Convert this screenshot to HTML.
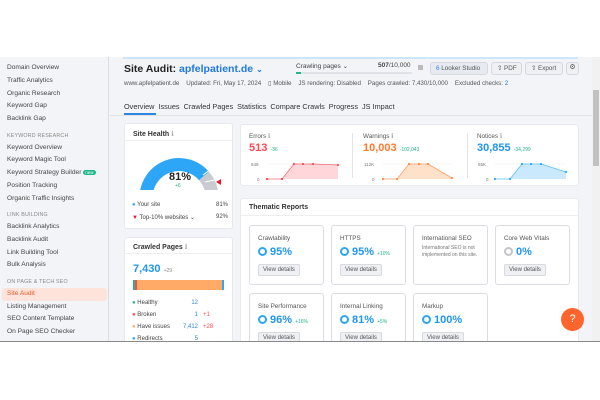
<!DOCTYPE html>
<html><head><meta charset="utf-8"><style>
*{margin:0;padding:0;box-sizing:border-box}
body{width:600px;height:400px;background:#fff;font-family:"Liberation Sans",sans-serif;position:relative;overflow:hidden;color:#333}
.a{position:absolute;white-space:nowrap}
#app{position:absolute;left:0;top:57px;width:600px;height:284px;background:#f3f4f8;overflow:hidden}
#side{position:absolute;left:0;top:0;width:109px;height:284px;background:#f3f4f8;border-right:1px solid #dcdde2}
.si{position:absolute;left:7px;font-size:6.6px;color:#444}
.sh{position:absolute;left:7px;font-size:5.3px;color:#888;letter-spacing:.2px}
.card{position:absolute;background:#fff;border-radius:3px;border:1px solid #e8e9ee}
.sub{position:absolute;background:#fff;border:1px solid #dcdde3;border-radius:3px}
.vd{position:absolute;left:8px;font-size:6px;color:#555;background:#eef0f3;border:1px solid #d8dade;border-radius:2px;padding:2px 4px}
.pc{position:absolute;left:8px;top:20px;font-size:11px;font-weight:bold;color:#2196f3}
.ring{display:inline-block;width:9px;height:9px;border:2px solid #2ea6f7;border-radius:50%;vertical-align:-1px;margin-right:3px}
.t{position:absolute;left:8px;top:9px;font-size:6.3px;color:#555}
</style></head><body>
<div id="app">
<div id="side">
<div class="si" style="top:7px">Domain Overview</div>
<div class="si" style="top:20px">Traffic Analytics</div>
<div class="si" style="top:33px">Organic Research</div>
<div class="si" style="top:45px">Keyword Gap</div>
<div class="si" style="top:58px">Backlink Gap</div>
<div class="sh" style="top:76px">KEYWORD RESEARCH</div>
<div class="si" style="top:87px">Keyword Overview</div>
<div class="si" style="top:99px">Keyword Magic Tool</div>
<div class="si" style="top:112px">Keyword Strategy Builder <span style="background:#1fb68a;color:#fff;font-size:4.5px;border-radius:3px;padding:0 2px">new</span></div>
<div class="si" style="top:125px">Position Tracking</div>
<div class="si" style="top:138px">Organic Traffic Insights</div>
<div class="sh" style="top:155px">LINK BUILDING</div>
<div class="si" style="top:166px">Backlink Analytics</div>
<div class="si" style="top:179px">Backlink Audit</div>
<div class="si" style="top:192px">Link Building Tool</div>
<div class="si" style="top:204px">Bulk Analysis</div>
<div class="sh" style="top:222px">ON PAGE &amp; TECH SEO</div>
<div style="position:absolute;left:2px;top:231px;width:105px;height:13px;background:#fde3da;border-radius:3px"></div>
<div class="si" style="top:233px;color:#f05a28">Site Audit</div>
<div class="si" style="top:246px">Listing Management</div>
<div class="si" style="top:258px">SEO Content Template</div>
<div class="si" style="top:271px">On Page SEO Checker</div>
</div>
<div class="a" style="left:123px;top:0;width:455px;height:2px;background:#cde6fb"></div>
<div class="a" style="left:124px;top:6px;font-size:10.5px;font-weight:bold;color:#222">Site Audit: <span style="color:#1f7ae0">apfelpatient.de</span> <span style="color:#1f7ae0;font-size:8px">⌄</span></div>
<div class="a" style="left:124px;top:23px;font-size:6.2px;color:#555">www.apfelpatient.de &nbsp;&nbsp; Updated: Fri, May 17, 2024 &nbsp;&nbsp; ▯ Mobile &nbsp;&nbsp; JS rendering: Disabled &nbsp;&nbsp; Pages crawled: 7,430/10,000 &nbsp;&nbsp; Excluded checks: <span style="color:#1f7ae0">2</span></div>
<div class="a" style="left:296px;top:5px;font-size:6.5px;color:#444">Crawling pages ⌄</div>
<div class="a" style="left:378px;top:5px;font-size:6.5px;color:#444"><b>507</b>/10,000</div>
<div class="a" style="left:296px;top:15px;width:116px;height:2px;background:#e0e2e7"><div style="width:5px;height:2px;background:#1fb68a"></div></div>
<div class="a" style="left:418px;top:8px;width:5px;height:5px;background:#bbb"></div>
<div class="a" style="left:430px;top:5px;width:58px;height:13px;background:#e7eaf1;border:1px solid #d5d8df;border-radius:3px;font-size:6.3px;color:#555;padding:2px 0 0 5px"><span style="color:#3b7fe8">6</span> Looker Studio</div>
<div class="a" style="left:491px;top:5px;width:31px;height:13px;background:#eef0f3;border:1px solid #d5d8df;border-radius:3px;font-size:6.3px;color:#555;padding:2px 0 0 5px">⇧ PDF</div>
<div class="a" style="left:525px;top:5px;width:38px;height:13px;background:#eef0f3;border:1px solid #d5d8df;border-radius:3px;font-size:6.3px;color:#555;padding:2px 0 0 5px">⇧ Export</div>
<div class="a" style="left:566px;top:5px;width:13px;height:13px;background:#eef0f3;border:1px solid #d5d8df;border-radius:3px;font-size:7px;color:#555;text-align:center">⚙</div>
<div class="a" style="left:124px;top:45px;font-size:7.3px;color:#333">Overview &nbsp;Issues &nbsp;Crawled Pages &nbsp;Statistics &nbsp;Compare Crawls &nbsp;Progress &nbsp;JS Impact</div>
<div class="a" style="left:124px;top:56px;width:32px;height:2px;background:#2e86de"></div>
<div class="a" style="left:110px;top:58px;width:482px;height:1px;background:#e1e2e7"></div>
<div class="a" style="left:592px;top:0;width:8px;height:284px;background:#f1f1f1"></div>
<div class="a" style="left:593px;top:33px;width:6px;height:76px;background:#c1c1c1"></div>

<!-- Site health -->
<div class="card" style="left:124px;top:66px;width:109px;height:106px">
<div class="a" style="left:8px;top:6px;font-size:7px;font-weight:bold;color:#333">Site Health <span style="color:#aaa;font-weight:normal">ℹ</span></div>
<div class="a" style="left:0;top:16px;width:107px;height:1px;background:#eee"></div>
<svg class="a" style="left:0;top:0" width="107" height="66">
<path d="M 21 74 A 33 33 0 0 1 79 52" fill="none" stroke="#2ea6f7" stroke-width="13"/>
<path d="M 79 52 A 33 33 0 0 1 87 74" fill="none" stroke="#c9cbd0" stroke-width="13"/>
<line x1="78" y1="51" x2="86" y2="45" stroke="#fff" stroke-width="1"/>
<line x1="80" y1="58" x2="94" y2="55" stroke="#fff" stroke-width="1"/>
<polygon points="91,58 96,55 96,61" fill="#e8192c"/>
</svg>
<div class="a" style="left:44px;top:47px;font-size:11px;font-weight:bold;color:#222">81%</div>
<div class="a" style="left:50px;top:59px;font-size:5px;color:#1fb68a">+6</div>
<div class="a" style="left:7px;top:78px;font-size:6px;color:#444"><span style="color:#2ea6f7">●</span> Your site</div>
<div class="a" style="left:91px;top:78px;font-size:6px;color:#444">81%</div>
<div class="a" style="left:7px;top:90px;font-size:6px;color:#444"><span style="color:#e8192c">▼</span> Top-10% websites ⌄</div>
<div class="a" style="left:91px;top:90px;font-size:6px;color:#444">92%</div>
</div>
<!-- crawled -->
<div class="card" style="left:124px;top:180px;width:109px;height:110px">
<div class="a" style="left:8px;top:5px;font-size:7px;font-weight:bold;color:#333">Crawled Pages <span style="color:#aaa;font-weight:normal">ℹ</span></div>
<div class="a" style="left:0;top:15px;width:107px;height:1px;background:#eee"></div>
<div class="a" style="left:8px;top:25px;font-size:11px;font-weight:bold;color:#2196f3">7,430 <span style="font-size:5px;color:#888;font-weight:normal">+29</span></div>
<div class="a" style="left:8px;top:42px;width:91px;height:10px;background:#ffaa66;border-radius:1px"><div style="position:absolute;left:0;width:2px;height:10px;background:#1fb68a"></div><div style="position:absolute;left:2px;width:2px;height:10px;background:#ff4953"></div><div style="position:absolute;right:0;width:2px;height:10px;background:#2ea6f7"></div></div>
<div class="a" style="left:7px;top:59px;font-size:6px;color:#444;line-height:12px"><span style="color:#1fb68a">●</span> Healthy<br><span style="color:#ff4953">●</span> Broken<br><span style="color:#ffaa66">●</span> Have issues<br><span style="color:#2ea6f7">●</span> Redirects</div>
<div class="a" style="left:58px;top:59px;font-size:6px;color:#2e86de;line-height:12px;text-align:right;width:15px">12<br>1<br>7,412<br>5</div>
<div class="a" style="left:78px;top:59px;font-size:6px;color:#ff4953;line-height:12px"><br>+1<br>+28</div>
</div>
<!-- errors -->
<div class="card" style="left:240px;top:67px;width:339px;height:62px">
<div class="a" style="left:111px;top:8px;width:1px;height:45px;background:#e3e4e8"></div>
<div class="a" style="left:226px;top:8px;width:1px;height:45px;background:#e3e4e8"></div>
<div class="a" style="left:8px;top:8px;font-size:6.3px;color:#555">Errors <span style="color:#aaa">ℹ</span></div>
<div class="a" style="left:8px;top:17px;font-size:11px;font-weight:bold;color:#ff4953">513 <span style="font-size:5px;color:#1fb68a;font-weight:normal">-36</span></div>
<div class="a" style="left:122px;top:8px;font-size:6.3px;color:#555">Warnings <span style="color:#aaa">ℹ</span></div>
<div class="a" style="left:122px;top:17px;font-size:11px;font-weight:bold;color:#ff7a2f">10,003 <span style="font-size:5px;color:#1fb68a;font-weight:normal">-102,043</span></div>
<div class="a" style="left:236px;top:8px;font-size:6.3px;color:#555">Notices <span style="color:#aaa">ℹ</span></div>
<div class="a" style="left:236px;top:17px;font-size:11px;font-weight:bold;color:#2196f3">30,855 <span style="font-size:5px;color:#1fb68a;font-weight:normal">-34,299</span></div>
<svg class="a" style="left:0;top:0" width="339" height="62" font-family="Liberation Sans" font-size="4.5" fill="#777">
<g transform="translate(-240,-124)">
<text x="250" y="165">549</text><text x="256" y="180">0</text>
<line x1="266" y1="163" x2="337" y2="163" stroke="#eee" stroke-width=".6"/>
<path d="M266 178 L281 178 L293 163 L302 163 L312 163 L337 164 L337 178 Z" fill="#ffd6d9"/>
<polyline points="266,178 281,178 293,163 302,163 312,163 337,164" fill="none" stroke="#ff6b75" stroke-width=".8"/>
<g fill="#ff4953"><circle cx="266" cy="178" r="1.1"/><circle cx="281" cy="178" r="1.1"/><circle cx="293" cy="163" r="1.1"/><circle cx="302" cy="163" r="1.1"/><circle cx="312" cy="163" r="1.1"/><circle cx="337" cy="164" r="1.1"/></g>
<text x="363" y="165">112K</text><text x="371" y="180">0</text>
<line x1="382" y1="163" x2="451" y2="163" stroke="#eee" stroke-width=".6"/>
<path d="M382 178 L396 178 L408 163 L418 163 L427 163 L451 177 L451 178 Z" fill="#ffe0c9"/>
<polyline points="382,178 396,178 408,163 418,163 427,163 451,177" fill="none" stroke="#ffa060" stroke-width=".8"/>
<g fill="#ff8a3d"><circle cx="382" cy="178" r="1.1"/><circle cx="396" cy="178" r="1.1"/><circle cx="408" cy="163" r="1.1"/><circle cx="418" cy="163" r="1.1"/><circle cx="427" cy="163" r="1.1"/><circle cx="451" cy="177" r="1.1"/></g>
<text x="477" y="165">65K</text><text x="485" y="180">0</text>
<line x1="494" y1="163" x2="565" y2="163" stroke="#eee" stroke-width=".6"/>
<path d="M494 178 L509 178 L521 163 L530 163 L540 163 L565 171 L565 178 Z" fill="#cbe9fc"/>
<polyline points="494,178 509,178 521,163 530,163 540,163 565,171" fill="none" stroke="#5cbcf8" stroke-width=".8"/>
<g fill="#2ea6f7"><circle cx="494" cy="178" r="1.1"/><circle cx="509" cy="178" r="1.1"/><circle cx="521" cy="163" r="1.1"/><circle cx="530" cy="163" r="1.1"/><circle cx="540" cy="163" r="1.1"/><circle cx="565" cy="171" r="1.1"/></g>
</g></svg>
</div>
<!-- thematic -->
<div class="card" style="left:240px;top:141px;width:339px;height:160px">
<div class="a" style="left:8px;top:5px;font-size:7px;font-weight:bold;color:#333">Thematic Reports</div>
<div class="a" style="left:0;top:16px;width:337px;height:1px;background:#eee"></div>
<div class="sub" style="left:8px;top:26px;width:75px;height:60px"><div class="t">Crawlability</div><div class="pc"><span class="ring"></span>95%</div><div class="vd" style="top:38px">View details</div></div>
<div class="sub" style="left:90px;top:26px;width:75px;height:60px"><div class="t">HTTPS</div><div class="pc"><span class="ring"></span>95% <span style="font-size:5px;color:#1fb68a;font-weight:normal">+10%</span></div><div class="vd" style="top:38px">View details</div></div>
<div class="sub" style="left:172px;top:26px;width:75px;height:60px"><div class="t">International SEO</div><div class="a" style="left:8px;top:19px;font-size:5px;color:#777;line-height:7px;white-space:normal;width:62px">International SEO is not implemented on this site.</div></div>
<div class="sub" style="left:254px;top:26px;width:75px;height:60px"><div class="t">Core Web Vitals</div><div class="pc"><span class="ring" style="border-color:#c3c5ca"></span>0%</div><div class="vd" style="top:38px">View details</div></div>
<div class="sub" style="left:8px;top:94px;width:75px;height:60px"><div class="t">Site Performance</div><div class="pc"><span class="ring"></span>96% <span style="font-size:5px;color:#1fb68a;font-weight:normal">+16%</span></div><div class="vd" style="top:38px">View details</div></div>
<div class="sub" style="left:90px;top:94px;width:75px;height:60px"><div class="t">Internal Linking</div><div class="pc"><span class="ring"></span>81% <span style="font-size:5px;color:#1fb68a;font-weight:normal">+5%</span></div><div class="vd" style="top:38px">View details</div></div>
<div class="sub" style="left:172px;top:94px;width:75px;height:60px"><div class="t">Markup</div><div class="pc"><span class="ring"></span>100%</div><div class="vd" style="top:38px">View details</div></div>
</div>
<div class="a" style="left:561px;top:251px;width:23px;height:23px;border-radius:50%;background:#ff642d;color:#fff;font-size:11px;text-align:center;line-height:23px">?</div>
</div>
<div class="a" style="left:0;top:341px;width:600px;height:1px;background:#888"></div>
</body></html>
